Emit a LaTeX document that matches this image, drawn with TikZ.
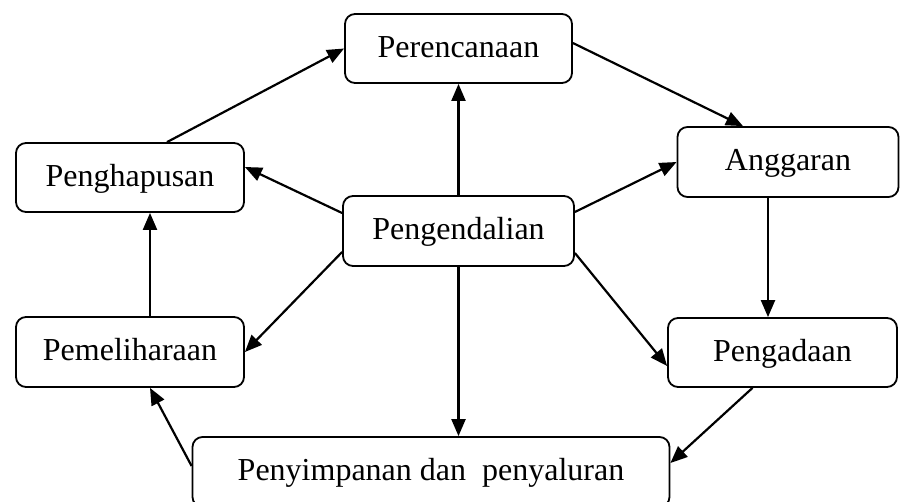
\documentclass[tikz,border=0pt]{standalone}
\usepackage{fontspec}
\setmainfont{Liberation Serif}
\usetikzlibrary{arrows.meta}
\begin{document}
\begin{tikzpicture}[x=1pt,y=-1pt,>={Triangle[length=17pt,width=14pt]},
  box/.style={draw,line width=1.8pt,rounded corners=10pt,minimum height=69pt,inner sep=0pt,
    text height=22pt,text depth=5pt,font=\fontsize{32}{36}\selectfont},
  arr/.style={->,line width=2.2pt}]
\useasboundingbox (0,0) rectangle (900,501);
\node[box,minimum width=227pt] (ren) at (458.5,48.5) {Perencanaan};
\node[box,minimum width=228pt] (hapus) at (130,177.5) {Penghapusan};
\node[box,minimum width=221pt,minimum height=70pt] (angg) at (788,162) {Anggaran};
\node[box,minimum width=231pt,minimum height=70pt] (kendali) at (458.5,231) {Pengendalian};
\node[box,minimum width=228pt,minimum height=70pt] (pelihara) at (130,352) {Pemeliharaan};
\node[box,minimum width=229pt] (ada) at (782.5,352.5) {Pengadaan};
\node[box,minimum width=477pt,minimum height=70pt] (simpan) at (431,472) {Penyimpanan dan\ \ penyaluran};
\draw[arr] ([xshift=37pt]hapus.north) -- (ren.west);
\draw[arr] ([yshift=5.5pt]ren.east) -- ([xshift=-45pt]angg.north);
\draw[arr] (kendali.north) -- (kendali.north |- ren.south);
\draw[arr] ([yshift=18pt]kendali.west) -- ([yshift=10.5pt]hapus.east);
\draw[arr] ([yshift=19pt]kendali.east) -- (angg.west);
\draw[arr] ([xshift=-20pt]angg.south) -- ([xshift=-20pt]angg.south |- ada.north);
\draw[arr] ([yshift=-21pt]kendali.west) -- (pelihara.east);
\draw[arr] ([yshift=-22pt]kendali.east) -- ([yshift=-13.5pt]ada.west);
\draw[arr] (kendali.south) -- (kendali.south |- simpan.north);
\draw[arr] ([xshift=-30pt]ada.south) -- ([yshift=9pt]simpan.east);
\draw[arr] ([yshift=6pt]simpan.west) -- ([xshift=20pt]pelihara.south);
\draw[arr] ([xshift=20pt]pelihara.north) -- ([xshift=20pt]hapus.south);
\end{tikzpicture}
\end{document}
